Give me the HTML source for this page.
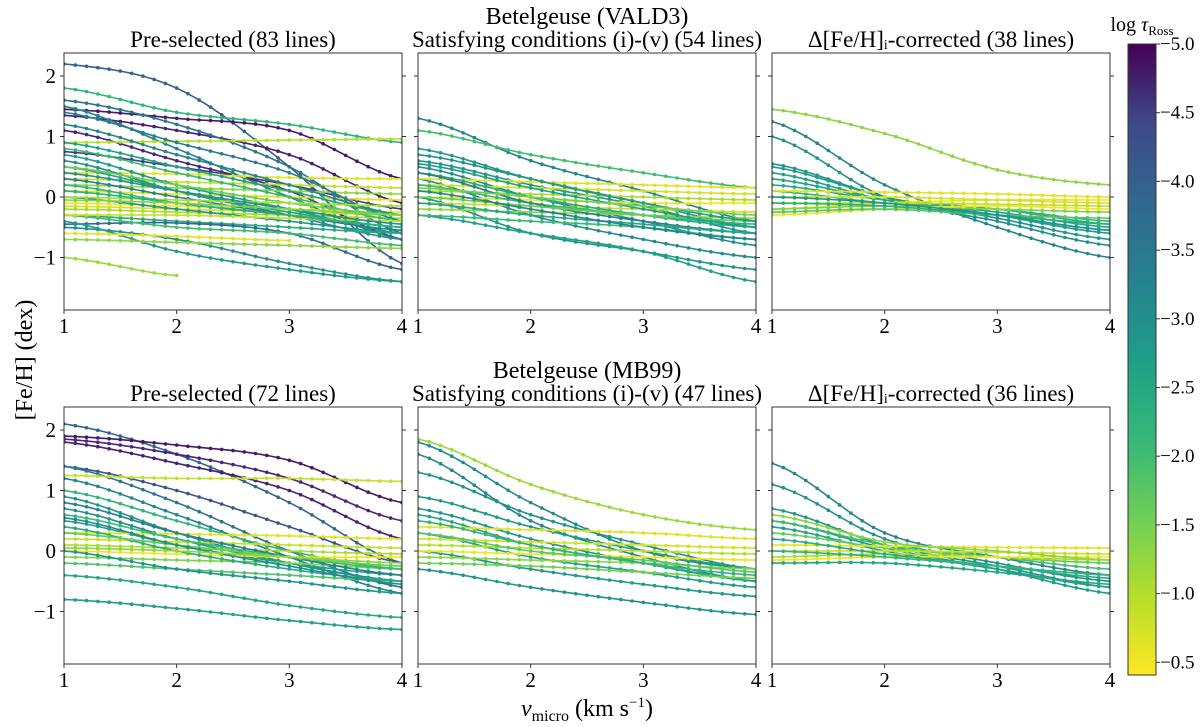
<!DOCTYPE html>
<html><head><meta charset="utf-8"><style>
html,body{margin:0;padding:0;background:#fff;}
svg{display:block;}
text,tspan{font-family:"Liberation Serif",serif;}
</style></head><body>
<svg id="chart" width="1200" height="727" viewBox="0 0 1200 727" font-family="Liberation Serif, serif">
<defs><linearGradient id="vir" x1="0" y1="1" x2="0" y2="0">
<stop offset="0" stop-color="#fde725"/><stop offset="0.125" stop-color="#b5de2b"/><stop offset="0.25" stop-color="#6ece58"/><stop offset="0.375" stop-color="#35b779"/><stop offset="0.5" stop-color="#1f9e89"/><stop offset="0.625" stop-color="#26828e"/><stop offset="0.75" stop-color="#31688e"/><stop offset="0.875" stop-color="#3e4989"/><stop offset="1" stop-color="#440154"/>
</linearGradient></defs>
<text x="587" y="24" font-size="24" text-anchor="middle">Betelgeuse (VALD3)</text>
<text x="587" y="378" font-size="24" text-anchor="middle">Betelgeuse (MB99)</text>
<text transform="translate(32,360) rotate(-90)" font-size="24" text-anchor="middle">[Fe/H]  (dex)</text>
<text x="587" y="716" font-size="24" text-anchor="middle"><tspan font-style="italic">v</tspan><tspan font-size="16" dy="5">micro</tspan><tspan dy="-5">  (km s</tspan><tspan font-size="15" dy="-9">−1</tspan><tspan dy="9">)</tspan></text>
<g id="panels"></g>
<g id="cbar"></g>
</svg>
<script>
const titles=["Pre-selected (83 lines)","Satisfying conditions (i)-(v) (54 lines)","Δ[Fe/H]ᵢ-corrected (38 lines)","Pre-selected (72 lines)","Satisfying conditions (i)-(v) (47 lines)","Δ[Fe/H]ᵢ-corrected (36 lines)"];
const xTicks=[1,2,3,4];
const yTicks=[2,1,0,-1];
const cbTicks=[-5.0,-4.5,-4.0,-3.5,-3.0,-2.5,-2.0,-1.5,-1.0,-0.5];
// each line: [log tau, FeH at v=1, v=2, v=3, v=4]
const p1=[[-3.6,2.2,1.8,0.5,-1.1],[-2.0,1.8,1.4,1.2,0.9],[-4.7,1.45,1.3,1.1,0.3],[-4.6,1.35,1.1,0.7,-0.1],[-4.5,1.1,0.6,0.1,-0.7],[-4.2,0.75,0.5,0.2,-0.2],[-3.2,1.6,1.2,0.5,-0.6],[-3.0,1.5,0.8,0.0,-0.7],[-0.9,0.9,0.92,0.94,0.96],[-0.6,0.4,0.38,0.32,0.3],[-0.8,0.3,0.25,0.2,0.15],[-1.2,0.2,0.15,0.1,0.05],[-0.6,0.1,0.05,0.0,-0.05],[-0.5,-0.1,-0.15,-0.2,-0.25],[-0.7,-0.15,-0.2,-0.25,-0.3],[-1.0,-0.2,-0.25,-0.3,-0.35],[-2.5,0.7,0.2,-0.2,-0.6],[-2.8,0.6,0.1,-0.3,-0.7],[-2.3,0.5,0.1,-0.25,-0.5],[-3.0,0.3,0.0,-0.3,-0.55],[-2.6,0.0,-0.2,-0.4,-0.6],[-2.2,-0.3,-0.4,-0.5,-0.6],[-3.4,-0.45,-0.43,-0.6,-1.2],[-2.7,-0.5,-0.7,-1.1,-1.4],[-2.5,-0.4,-0.9,-1.2,-1.4],[-1.8,-0.3,-0.5,-0.6,-0.8],[-1.2,-0.7,-0.75,-0.8,-0.85],[-1.1,-1.0,-1.3,null,null],[-3.1,1.4,0.9,0.4,-0.4],[-2.9,1.2,0.7,0.2,-0.3],[-2.4,0.9,0.5,0.1,-0.3],[-1.9,0.8,0.4,0.0,-0.4],[-1.5,0.5,0.2,-0.1,-0.3],[-1.0,0.0,-0.05,-0.1,-0.15],[-0.8,-0.3,-0.3,-0.35,-0.4],[-2.0,0.2,-0.1,-0.3,-0.5],[-2.7,0.4,0.1,-0.2,-0.45],[-2.1,0.1,-0.1,-0.3,-0.5],[-1.3,-0.05,-0.1,-0.2,-0.3],[-0.6,-0.6,-0.65,-0.72,null]];
const p2=[[-2.9,1.3,0.6,0.1,-0.4],[-1.8,1.1,0.7,0.4,0.15],[-2.7,0.7,0.3,-0.1,-0.5],[-2.6,0.6,0.2,-0.15,-0.6],[-2.8,0.5,0.0,-0.4,-0.8],[-2.8,0.3,-0.3,-0.7,-1.0],[-2.6,0.0,-0.6,-0.9,-1.2],[-2.4,-0.3,-0.6,-0.9,-1.4],[-0.6,0.3,0.25,0.2,0.15],[-0.7,0.2,0.15,0.1,0.05],[-1.0,0.1,0.05,0.0,-0.05],[-0.5,0.0,-0.05,-0.1,-0.1],[-0.8,-0.1,-0.15,-0.2,-0.25],[-1.2,-0.2,-0.25,-0.3,-0.35],[-2.2,0.4,0.0,-0.3,-0.5],[-2.0,0.2,-0.1,-0.3,-0.45],[-3.0,0.4,-0.1,-0.4,-0.6],[-2.3,-0.1,-0.3,-0.45,-0.6],[-1.5,0.0,-0.15,-0.3,-0.4],[-2.5,0.8,0.3,-0.1,-0.4],[-1.9,-0.3,-0.4,-0.5,-0.7],[-2.9,0.1,-0.2,-0.5,-0.7],[-2.4,0.55,0.15,-0.2,-0.5],[-1.4,0.15,0.0,-0.15,-0.3]];
const p3=[[-1.2,1.45,1.05,0.45,0.2],[-2.9,1.25,0.2,-0.5,-1.0],[-2.7,1.0,0.0,-0.4,-0.8],[-2.6,0.55,0.0,-0.35,-0.7],[-2.5,0.5,0.0,-0.3,-0.6],[-2.4,0.4,-0.05,-0.3,-0.55],[-2.3,0.3,-0.05,-0.25,-0.5],[-2.2,0.2,-0.05,-0.2,-0.45],[-2.0,0.1,-0.1,-0.2,-0.4],[-0.6,0.1,0.08,0.05,0.0],[-0.5,-0.2,-0.1,-0.05,-0.05],[-0.7,0.0,0.0,-0.05,-0.1],[-0.9,-0.1,-0.1,-0.12,-0.15],[-1.3,-0.2,-0.15,-0.2,-0.25],[-0.5,-0.3,-0.2,-0.15,-0.2],[-1.6,-0.25,-0.2,-0.3,-0.35],[-2.1,-0.1,-0.15,-0.3,-0.45],[-2.6,0.0,-0.1,-0.3,-0.55]];
const p4=[[-3.5,2.1,1.6,0.8,-0.2],[-4.7,1.9,1.75,1.5,0.8],[-4.5,1.85,1.6,1.2,0.5],[-4.6,1.8,1.45,1.0,0.2],[-3.8,1.4,1.0,0.4,-0.2],[-3.2,1.4,0.8,0.0,-0.6],[-2.9,1.2,0.6,-0.1,-0.7],[-0.8,1.25,1.2,1.2,1.15],[-2.0,1.0,0.5,0.0,-0.3],[-2.6,0.9,0.3,-0.2,-0.5],[-2.7,0.7,0.2,-0.2,-0.5],[-2.4,0.5,0.1,-0.2,-0.4],[-0.6,0.3,0.28,0.25,0.2],[-0.8,0.2,0.15,0.1,0.05],[-1.0,0.1,0.05,0.0,-0.05],[-0.5,0.0,-0.05,-0.1,-0.1],[-1.3,-0.1,-0.15,-0.2,-0.3],[-1.7,-0.2,-0.3,-0.4,-0.5],[-2.3,-0.4,-0.6,-0.9,-1.1],[-2.4,-0.8,-0.95,-1.15,-1.3],[-2.6,0.0,-0.3,-0.5,-0.7],[-2.2,0.4,0.0,-0.3,-0.5],[-1.9,0.6,0.2,-0.1,-0.3],[-3.0,0.8,0.3,-0.1,-0.4],[-1.5,0.3,0.1,-0.1,-0.25],[-2.8,0.55,0.1,-0.25,-0.55],[-1.2,0.05,0.0,-0.1,-0.2]];
const p5=[[-1.1,1.85,1.1,0.6,0.35],[-2.8,1.8,0.8,0.0,-0.3],[-2.9,1.6,0.5,-0.1,-0.5],[-2.7,1.3,0.6,0.1,-0.3],[-2.5,0.9,0.4,0.0,-0.3],[-2.6,0.7,0.2,-0.2,-0.5],[-2.3,0.6,0.1,-0.2,-0.5],[-2.4,0.3,-0.1,-0.35,-0.6],[-2.5,0.0,-0.3,-0.55,-0.75],[-2.6,-0.3,-0.6,-0.85,-1.05],[-0.6,0.4,0.35,0.3,0.2],[-0.7,0.2,0.15,0.1,0.05],[-0.9,0.1,0.05,0.0,-0.05],[-0.5,0.0,-0.05,-0.1,-0.15],[-1.2,-0.1,-0.15,-0.2,-0.3],[-1.6,0.3,0.0,-0.15,-0.35],[-2.0,0.5,0.1,-0.2,-0.4],[-1.4,-0.2,-0.25,-0.35,-0.45]];
const p6=[[-2.9,1.45,0.3,-0.1,-0.4],[-2.7,1.1,0.2,-0.2,-0.5],[-2.6,0.7,0.1,-0.25,-0.6],[-2.5,0.5,0.05,-0.3,-0.7],[-2.4,0.4,0.0,-0.3,-0.6],[-1.8,0.5,0.1,-0.1,-0.3],[-1.5,0.3,0.05,-0.1,-0.2],[-0.6,0.1,0.08,0.06,0.05],[-0.8,0.0,0.0,-0.02,-0.05],[-1.0,-0.1,-0.05,-0.1,-0.15],[-0.5,-0.15,-0.1,-0.1,-0.1],[-2.2,0.2,-0.05,-0.25,-0.45],[-2.0,0.0,-0.1,-0.25,-0.4],[-2.3,-0.2,-0.2,-0.35,-0.55],[-1.2,0.6,0.15,0.0,-0.15]];
const panelsData=[p1,p2,p3,p4,p5,p6];

const NS="http://www.w3.org/2000/svg";
function mk(tag,attrs,parent){const e=document.createElementNS(NS,tag);for(const k in attrs)e.setAttribute(k,attrs[k]);parent.appendChild(e);return e;}
const vstops=["#440154","#482878","#3e4989","#31688e","#26828e","#1f9e89","#35b779","#6ece58","#b5de2b","#fde725"];
function hex(h){return [1,3,5].map(i=>parseInt(h.substr(i,2),16));}
function viridis(c){let t=(c+5)/4.6;t=Math.max(0,Math.min(1,t));const s=t*(vstops.length-1);const i=Math.min(Math.floor(s),vstops.length-2);const f=s-i;const a=hex(vstops[i]),b=hex(vstops[i+1]);return "rgb("+a.map((v,k)=>Math.round(v+(b[k]-v)*f)).join(",")+")";}
const pxL=[64,418,772],PW=338,rowTop=[53,407],PH=257;
const root=document.getElementById('panels');
panelsData.forEach((data,pi)=>{
  const col=pi%3,row=Math.floor(pi/3);
  const x0=pxL[col],y0=rowTop[row];
  const xs=v=>x0+(v-1)/3*PW;
  const ys=f=>y0+23+(2-f)*60.5;
  const g=mk('g',{},root);
  
  
  mk('defs',{},g).innerHTML='<clipPath id="cp'+pi+'"><rect x="'+x0+'" y="'+y0+'" width="'+PW+'" height="'+PH+'"/></clipPath>';
  const t=mk('text',{x:x0+PW/2,y:y0-6,'font-size':23,'text-anchor':'middle'},g);t.textContent=titles[pi];
  
  
  const lg=mk('g',{'clip-path':'url(#cp'+pi+')'},g);
  data.forEach((ln,li)=>{
    const c=ln[0];const vals=ln.slice(1);
    const pts=[];vals.forEach((v,i)=>{if(v!==null)pts.push([i+1,v]);});
    const samp=[];
    for(let i=0;i<pts.length-1;i++){
      const P0=pts[Math.max(0,i-1)],P1=pts[i],P2=pts[i+1],P3=pts[Math.min(pts.length-1,i+2)];
      for(let k=0;k<10;k++){const u=k/10;
        const y=0.5*((2*P1[1])+(-P0[1]+P2[1])*u+(2*P0[1]-5*P1[1]+4*P2[1]-P3[1])*u*u+(-P0[1]+3*P1[1]-3*P2[1]+P3[1])*u*u*u);
        samp.push([P1[0]+u*(P2[0]-P1[0]),y]);}
    }
    samp.push(pts[pts.length-1]);
    const col_=viridis(c);
    const lgp=mk('g',{},lg);
    
    
    mk('polyline',{points:samp.map(p=>xs(p[0]).toFixed(1)+','+ys(p[1]).toFixed(1)).join(' '),fill:'none',stroke:col_,'stroke-width':1.6},lgp);
    samp.forEach(p=>mk('circle',{cx:xs(p[0]).toFixed(1),cy:ys(p[1]).toFixed(1),r:1.8,fill:col_},lgp));
  });
  const fr=mk('rect',{x:x0,y:y0,width:PW,height:PH,fill:'none',stroke:'#333','stroke-width':1},g);
  
  
  xTicks.forEach(v=>{const X=xs(v);mk('line',{x1:X,x2:X,y1:y0+PH,y2:y0+PH+4,stroke:'#333'},g);
    const tx=mk('text',{x:X,y:y0+PH+23,'font-size':21,'text-anchor':'middle'},g);tx.textContent=v;
    
    });
  yTicks.forEach(v=>{const Y=ys(v);mk('line',{x1:x0-4,x2:x0,y1:Y,y2:Y,stroke:'#333'},g);mk('line',{x1:x0+PW,x2:x0+PW+4,y1:Y,y2:Y,stroke:'#333'},g);
    if(col===0){const ty=mk('text',{x:x0-8,y:Y+7,'font-size':21,'text-anchor':'end'},g);ty.textContent=v<0?'−'+Math.abs(v):v;
    
    }});
});
const cb=document.getElementById('cbar');
const cbY=v=>44+(v+5)/0.5*68.7;
mk('rect',{x:1128,y:44,width:28,height:631,fill:'url(#vir)',stroke:'#333','stroke-width':1},cb);
cbTicks.forEach(v=>{const Y=cbY(v);mk('line',{x1:1156,x2:1160,y1:Y,y2:Y,stroke:'#333'},cb);
  const t=mk('text',{x:1160,y:Y+6,'font-size':19},cb);t.textContent='−'+Math.abs(v).toFixed(1);
  
  });
const cl=mk('text',{x:1142,y:31,'font-size':20,'text-anchor':'middle'},cb);
cl.innerHTML='log <tspan font-style="italic">τ</tspan><tspan font-size="13" dy="4">Ross</tspan>';


</script>
</body></html>
